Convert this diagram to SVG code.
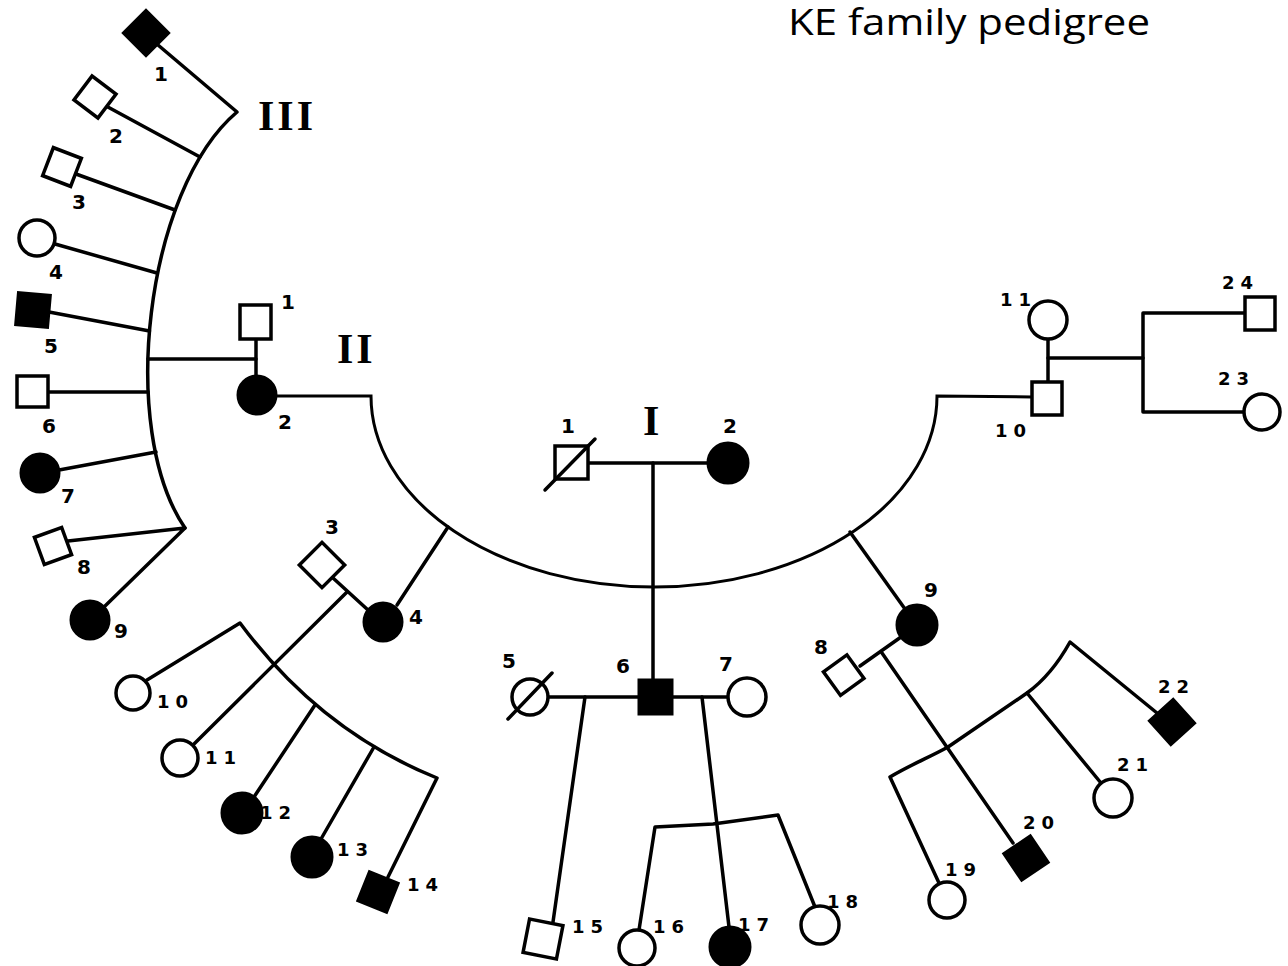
<svg xmlns="http://www.w3.org/2000/svg" width="1288" height="966" viewBox="0 0 1288 966">
  <style>
    .ln { fill: none; stroke: #000; stroke-width: 3.5; stroke-linecap: round; stroke-linejoin: round; }
    .arc { fill: none; stroke: #000; stroke-width: 3; }
    .open { fill: #fff; stroke: #000; stroke-width: 3.5; }
    .aff { fill: #000; stroke: #000; stroke-width: 3; }
    .slash { stroke: #000; stroke-width: 3.5; stroke-linecap: round; }
    .n1 { font-family: "DejaVu Sans", sans-serif; font-weight: bold; font-size: 20px; fill: #000; }
    .n2 { font-family: "DejaVu Sans", sans-serif; font-weight: bold; font-size: 18px; letter-spacing: 6px; fill: #000; }
    .gen { font-family: "Liberation Serif", serif; font-weight: bold; font-size: 42px; letter-spacing: 3px; fill: #000; }
    .title { font-family: "Open Sans", sans-serif; font-size: 37px; fill: #000; }
  </style>
  <rect width="1288" height="966" fill="#fff"/>

  <text class="title" x="788" y="35" textLength="362" lengthAdjust="spacingAndGlyphs">KE family pedigree</text>
  <text class="gen" x="258" y="130">III</text>
  <text class="gen" x="337" y="363">II</text>
  <text class="gen" x="643" y="435">I</text>

  <!-- lines of descent and marriage -->
  <g id="connectors">
    <!-- generation I -->
    <path class="ln" d="M588,463 L708,463"/>
    <path class="ln" d="M653,463 L653,680"/>
    <!-- sibship arc of generation II -->
    <path class="arc" d="M276,396 L371,396 A283,191 0 0 0 937,396 L1032,397"/>
    <!-- II-1 x II-2 -->
    <path class="ln" d="M256,339 L256,376"/>
    <path class="ln" d="M148,359 L256,359"/>
    <!-- generation III, children of II-1 x II-2 -->
    <path class="ln" d="M158,45 L237,112 C145,190 118,430 185,528"/>
    <path class="ln" d="M106,106 L200,157"/>
    <path class="ln" d="M76,174 L175,210"/>
    <path class="ln" d="M55,244 L157,273"/>
    <path class="ln" d="M49,312 L149.5,331"/>
    <path class="ln" d="M48,392 L148,392"/>
    <path class="ln" d="M59,470 L156,452"/>
    <path class="ln" d="M68,541 L185,528 L104,607"/>
    <!-- II-3 x II-4 -->
    <path class="ln" d="M448,527 L397,605"/>
    <path class="ln" d="M333,578 L368,610"/>
    <path class="ln" d="M347,592 L193,745"/>
    <path class="ln" d="M147,680 L240,623 Q320,731 437,778 L388,877"/>
    <path class="ln" d="M315,705 L254,797"/>
    <path class="ln" d="M374,747 L321,839"/>
    <!-- II-5 x II-6 x II-7 -->
    <path class="ln" d="M548,697 L639,697"/>
    <path class="ln" d="M672,697 L728,697"/>
    <path class="ln" d="M585,697 L553,922"/>
    <path class="ln" d="M702,697 L729,927"/>
    <path class="ln" d="M639,930 L655,827 L713,824 L778,815 L815,907"/>
    <!-- II-8 x II-9 -->
    <path class="ln" d="M850,532 L905,609"/>
    <path class="ln" d="M860,666 L901,637"/>
    <path class="ln" d="M882,653 L1013,843"/>
    <path class="ln" d="M939,883 L890,777 C910,765 930,757 948,747 L1027,693 C1045,680 1060,660 1070,642 L1157,713"/>
    <path class="ln" d="M1027,693 L1101,783"/>
    <!-- II-10 x II-11 -->
    <path class="ln" d="M1048,339 L1048,382"/>
    <path class="ln" d="M1048,358 L1143,358"/>
    <path class="ln" d="M1245,313 L1143,313 L1143,412 L1244,412"/>
  </g>

  <!-- generation I -->
  <g id="I-1">
    <rect class="open" x="555" y="446" width="33" height="33"/>
    <line class="slash" x1="545" y1="490" x2="595" y2="439"/>
    <text class="n1" x="561" y="433">1</text>
  </g>
  <g id="I-2">
    <circle class="aff" cx="728" cy="463" r="20"/>
    <text class="n1" x="723" y="433">2</text>
  </g>

  <!-- generation II -->
  <g id="II-1">
    <rect class="open" x="240" y="305" width="31" height="34"/>
    <text class="n1" x="281" y="309">1</text>
  </g>
  <g id="II-2">
    <circle class="aff" cx="257" cy="395" r="19"/>
    <text class="n1" x="278" y="429">2</text>
  </g>
  <g id="II-3">
    <rect class="open" x="306" y="549" width="32" height="32" transform="rotate(45 322 565)"/>
    <text class="n1" x="325" y="534">3</text>
  </g>
  <g id="II-4">
    <circle class="aff" cx="383" cy="622" r="19"/>
    <text class="n1" x="409" y="624">4</text>
  </g>
  <g id="II-5">
    <circle class="open" cx="530" cy="697" r="18"/>
    <line class="slash" x1="508" y1="719" x2="552" y2="673"/>
    <text class="n1" x="502" y="668">5</text>
  </g>
  <g id="II-6">
    <rect class="aff" x="639" y="680" width="33" height="34"/>
    <text class="n1" x="616" y="673">6</text>
  </g>
  <g id="II-7">
    <circle class="open" cx="747" cy="697" r="19"/>
    <text class="n1" x="719" y="671">7</text>
  </g>
  <g id="II-8">
    <rect class="open" x="829" y="661" width="29" height="29" transform="rotate(-36 843 675)"/>
    <text class="n1" x="814" y="654">8</text>
  </g>
  <g id="II-9">
    <circle class="aff" cx="917" cy="625" r="20"/>
    <text class="n1" x="924" y="597">9</text>
  </g>
  <g id="II-10">
    <rect class="open" x="1032" y="382" width="30" height="33"/>
    <text class="n2" x="995" y="437">10</text>
  </g>
  <g id="II-11">
    <circle class="open" cx="1048" cy="320" r="19"/>
    <text class="n2" x="1000" y="306">11</text>
  </g>

  <!-- generation III -->
  <g id="III-1">
    <rect class="aff" x="130" y="17" width="32" height="32" transform="rotate(45 146 33)"/>
    <text class="n1" x="154" y="81">1</text>
  </g>
  <g id="III-2">
    <rect class="open" x="80" y="82" width="30" height="30" transform="rotate(37 95 97)"/>
    <text class="n1" x="109" y="143">2</text>
  </g>
  <g id="III-3">
    <rect class="open" x="47" y="152" width="30" height="30" transform="rotate(21 62 167)"/>
    <text class="n1" x="72" y="209">3</text>
  </g>
  <g id="III-4">
    <circle class="open" cx="37" cy="238" r="18"/>
    <text class="n1" x="49" y="279">4</text>
  </g>
  <g id="III-5">
    <rect class="aff" x="17" y="294" width="32" height="32" transform="rotate(5 33 310)"/>
    <text class="n1" x="44" y="353">5</text>
  </g>
  <g id="III-6">
    <rect class="open" x="17" y="376" width="31" height="31"/>
    <text class="n1" x="42" y="433">6</text>
  </g>
  <g id="III-7">
    <circle class="aff" cx="40" cy="473" r="19"/>
    <text class="n1" x="61" y="503">7</text>
  </g>
  <g id="III-8">
    <rect class="open" x="38.5" y="531.5" width="29" height="29" transform="rotate(-20 53 546)"/>
    <text class="n1" x="77" y="574">8</text>
  </g>
  <g id="III-9">
    <circle class="aff" cx="90" cy="620" r="19"/>
    <text class="n1" x="114" y="638">9</text>
  </g>
  <g id="III-10">
    <circle class="open" cx="133" cy="693" r="17"/>
    <text class="n2" x="157" y="708">10</text>
  </g>
  <g id="III-11">
    <circle class="open" cx="180" cy="758" r="18"/>
    <text class="n2" x="205" y="764">11</text>
  </g>
  <g id="III-12">
    <circle class="aff" cx="242" cy="813" r="20"/>
    <text class="n2" x="260" y="819">12</text>
  </g>
  <g id="III-13">
    <circle class="aff" cx="312" cy="857" r="20"/>
    <text class="n2" x="337" y="856">13</text>
  </g>
  <g id="III-14">
    <rect class="aff" x="362.5" y="876.5" width="31" height="31" transform="rotate(22 378 892)"/>
    <text class="n2" x="407" y="891">14</text>
  </g>
  <g id="III-15">
    <rect class="open" x="526" y="922" width="34" height="34" transform="rotate(11 543 939)"/>
    <text class="n2" x="572" y="933">15</text>
  </g>
  <g id="III-16">
    <circle class="open" cx="637" cy="948" r="18"/>
    <text class="n2" x="653" y="933">16</text>
  </g>
  <g id="III-17">
    <circle class="aff" cx="730" cy="947" r="20"/>
    <text class="n2" x="738" y="931">17</text>
  </g>
  <g id="III-18">
    <circle class="open" cx="820" cy="925" r="19"/>
    <text class="n2" x="827" y="908">18</text>
  </g>
  <g id="III-19">
    <circle class="open" cx="947" cy="900" r="18"/>
    <text class="n2" x="945" y="876">19</text>
  </g>
  <g id="III-20">
    <rect class="aff" x="1010" y="842" width="32" height="32" transform="rotate(-34 1026 858)"/>
    <text class="n2" x="1023" y="829">20</text>
  </g>
  <g id="III-21">
    <circle class="open" cx="1113" cy="798" r="19"/>
    <text class="n2" x="1117" y="771">21</text>
  </g>
  <g id="III-22">
    <rect class="aff" x="1156" y="706" width="32" height="32" transform="rotate(-42 1172 722)"/>
    <text class="n2" x="1158" y="693">22</text>
  </g>
  <g id="III-23">
    <circle class="open" cx="1262" cy="412" r="18"/>
    <text class="n2" x="1218" y="385">23</text>
  </g>
  <g id="III-24">
    <rect class="open" x="1245" y="297" width="30" height="33"/>
    <text class="n2" x="1222" y="289">24</text>
  </g>
</svg>
